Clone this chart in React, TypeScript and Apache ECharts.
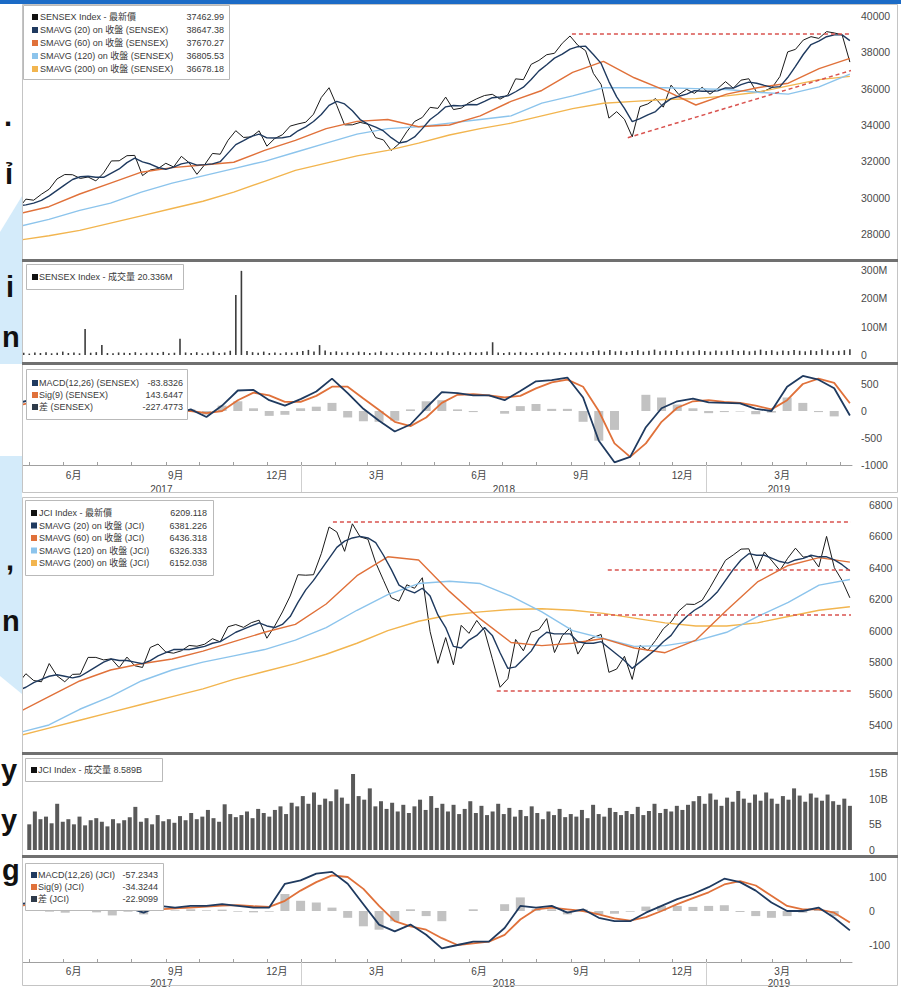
import React, { useEffect, useRef } from "react";
import * as echarts from "echarts";

const FONT = "'Liberation Sans', 'Noto Sans CJK TC', 'Noto Sans CJK SC', sans-serif";

// ---- time frame: day numbers counted from 1 Jan 2017 ----
const DAY0 = Date.UTC(2017, 0, 1);
const FIRST_DAY = 110; // Fri 21 Apr 2017
const LAST_DAY = 859; // Fri 10 May 2019
const X_MIN = 113.5;
const X_MAX = 860.9;
const PX_PER_DAY = 1.1105;

// ---- SENSEX ----
const SENSEX_PRICE = [
  29365, 29918, 29859, 30188, 30465, 31028, 31273, 31262, 31056, 31138,
  30922, 31360, 32021, 32029, 32309, 32326, 31214, 31525, 31596, 31892,
  31688, 32273, 31922, 31284, 31815, 32433, 32390, 33157, 33686, 33315,
  33343, 33679, 32833, 33251, 33463, 33940, 34057, 34154, 34592, 35512,
  36050, 35067, 34005, 34010, 34142, 34047, 33307, 33176, 32597, 32969,
  33627, 34193, 34415, 34970, 34915, 35536, 34849, 34925, 35227, 35444,
  35622, 35689, 35423, 35658, 36541, 36496, 37337, 37557, 37869, 37948,
  38500, 38900, 38390, 38091, 36842, 36227, 34377, 34733, 34315, 33349,
  35012, 35158, 35457, 34981, 36194, 35673, 35963, 35742, 36076, 35695,
  36010, 36387, 36025, 36469, 36546, 35809, 35871, 36064, 36671, 38024,
  38164, 38673, 38862, 38767, 39140, 39067, 38963, 37463,
];
const SENSEX_SMA20 = [
  29550, 29600, 29700, 29850, 30100, 30400, 30700, 31000, 31150, 31180,
  31120, 31120, 31350, 31580, 31930, 32170, 31970, 31850, 31660, 31560,
  31680, 31860, 31940, 31790, 31820, 31860, 31980, 32450, 32920, 33140,
  33370, 33500, 33290, 33280, 33300, 33370, 33680, 33900, 34190, 34580,
  35080, 35300, 35160, 34780, 34300, 34050, 33880, 33670, 33300, 33010,
  33090, 33340, 33800, 34300, 34620, 35000, 35070, 35050, 35130, 35110,
  35300, 35500, 35540, 35600, 35830, 36080, 36500, 36980, 37320, 37680,
  37900, 38180, 38310, 38340, 37880, 37390, 36390, 35550, 34920, 34190,
  34350, 34560, 34740, 35150, 35450, 35580, 35700, 35890, 35860, 35860,
  35880, 36040, 36030, 36220, 36360, 36300, 36180, 36070, 36110, 36610,
  37230, 37880, 38430, 38620, 38860, 38960, 38960, 38647,
];
const SENSEX_SMA60 = [
  29100, 29500, 30200, 30800, 31400, 31650, 31800, 31950, 32600, 33150,
  33800, 34200, 34300, 33900, 34000, 34500, 35300, 35900, 36900, 37500,
  36600, 35900, 35100, 35700, 36050, 36300, 37100, 37670,
];
const SENSEX_SMA120 = [
  28400, 28800, 29300, 29700, 30300, 30800, 31200, 31600, 32000, 32500,
  33000, 33500, 33800, 33900, 34100, 34300, 34500, 35200, 35600, 36050,
  36050, 36050, 36000, 35950, 35800, 35700, 36100, 36805,
];
const SENSEX_SMA200 = [
  27650, 27900, 28200, 28600, 29000, 29400, 29800, 30300, 30900, 31500,
  31900, 32300, 32600, 33000, 33450, 33800, 34100, 34500, 34900, 35200,
  35300, 35400, 35450, 35600, 35800, 36150, 36500, 36678,
];
const SENSEX_VOL = [
  6, 8, 5, 9, 7, 10, 6, 8, 12, 7,
  9, 6, 92, 8, 10, 35, 7, 6, 9, 8,
  7, 10, 6, 8, 9, 7, 11, 6, 8, 57,
  9, 7, 10, 6, 8, 12, 7, 9, 15, 212,
  297, 14, 10, 8, 12, 7, 9, 6, 10, 8,
  11, 14, 18, 12, 35, 16, 10, 13, 9, 11,
  8, 12, 10, 7, 9, 13, 8, 10, 6, 9,
  11, 8, 10, 7, 12, 9, 8, 13, 10, 7,
  9, 11, 8, 10, 12, 45, 9, 7, 10, 8,
  11, 9, 7, 10, 8, 12, 9, 11, 7, 10,
  9, 12, 10, 14, 16, 12, 18, 13, 15, 11,
  14, 17, 12, 15, 19, 13, 16, 14, 18, 12,
  15, 13, 17, 14, 12, 16, 13, 15, 18, 14,
  16, 13, 15, 19, 14, 17, 12, 16, 14, 18,
  15, 13, 17, 14, 20, 16, 13, 15, 17, 20,
];
const SENSEX_MACD = [
  150, 220, 300, 420, 330, 180, 260, 380, 200, -30,
  -60, 30, -110, 100, 380, 390, 200, 100, 220, 360,
  600, 330, 40, -180, -380, -250, 60, 350, 330, 290,
  290, 200, 370, 550, 570, 620, 250, -550, -950, -850,
  -300, 50, 180, 230, 160, 150, 140, 40, 0, 450,
  650, 580, 420, -84,
];
const SENSEX_SIG = [
  100, 170, 240, 330, 360, 280, 240, 300, 290, 120,
  10, 0, -40, 0, 200, 340, 290, 170, 170, 280,
  450, 450, 230, 20, -200, -280, -120, 150, 300, 310,
  290, 250, 280, 420, 530, 580, 450, 0, -600, -850,
  -600, -200, 60, 180, 200, 170, 150, 100, 30, 200,
  500, 600, 520, 144,
];
const SENSEX_HIST = [
  50, 50, 60, 90, -30, -100, 20, 80, -90, -150,
  -70, 30, -70, 100, 180, 50, -90, -70, 50, 80,
  150, -120, -190, -200, -180, 30, 180, 200, 30, -20,
  0, -50, 90, 130, 40, 40, -200, -550, -350, 0,
  300, 250, 120, 50, -40, -20, -10, -60, -30, 250,
  150, -20, -100, -227,
];
const SENSEX_TRENDS = [
  [608.7, 39000, 860, 39000],
  [659, 33300, 860, 37000],
];

// ---- JCI ----
const JCI_PRICE = [
  5664, 5726, 5683, 5675, 5791, 5713, 5675, 5722, 5724, 5830,
  5830, 5814, 5821, 5765, 5832, 5777, 5766, 5893, 5915, 5864,
  5857, 5872, 5906, 5901, 5914, 5949, 5929, 6025, 6039, 6021,
  6051, 6067, 5952, 6029, 6119, 6221, 6356, 6353, 6356, 6490,
  6660, 6628, 6505, 6680, 6597, 6582, 6433, 6321, 6210, 6188,
  6292, 6270, 6337, 5994, 5792, 5956, 5783, 6034, 5983, 6065,
  6000, 5822, 5640, 5694, 5944, 5872, 5990, 6007, 6077, 5861,
  5968, 6018, 5851, 5931, 5957, 5976, 5735, 5756, 5837, 5690,
  5906, 5874, 5938, 6012, 6056, 6126, 6169, 6167, 6194, 6274,
  6361, 6448, 6482, 6519, 6521, 6389, 6501, 6443, 6383, 6461,
  6525, 6468, 6474, 6405, 6600, 6401, 6319, 6209,
];
const JCI_SMA20 = [
  5620, 5640, 5670, 5690, 5710, 5720, 5710, 5700, 5710, 5740,
  5770, 5800, 5820, 5810, 5810, 5800, 5790, 5810, 5840, 5860,
  5880, 5880, 5880, 5890, 5900, 5920, 5930, 5960, 5990, 6010,
  6030, 6050, 6030, 6020, 6040, 6090, 6180, 6260, 6320, 6390,
  6460, 6530, 6570, 6590, 6600, 6590, 6560, 6480, 6390, 6290,
  6260, 6240, 6270, 6220, 6100, 6020, 5900, 5890, 5940, 5970,
  6020, 5970, 5860, 5760, 5770, 5820, 5870, 5950, 5990, 5980,
  5980, 5980, 5930, 5920, 5920, 5930, 5890, 5850, 5810, 5760,
  5800, 5840, 5880, 5930, 5970, 6040, 6090, 6130, 6160, 6200,
  6250, 6320, 6390, 6450, 6490, 6480, 6480, 6460, 6440, 6430,
  6450, 6460, 6480, 6470, 6470, 6450, 6420, 6381,
];
const JCI_SMA60 = [
  5480, 5580, 5680, 5750, 5790, 5820, 5870, 5930, 5990, 6040,
  6170, 6350, 6470, 6450, 6250, 6075, 5925, 5905, 5920, 5950,
  5890, 5860, 5940, 6130, 6310, 6415, 6465, 6436,
];
const JCI_SMA120 = [
  5350, 5400, 5500, 5580, 5680, 5750, 5800, 5840, 5880, 5940,
  6020, 6130, 6230, 6300, 6315, 6300, 6220, 6120, 6000, 5950,
  5900, 5905, 5935, 5990, 6090, 6180, 6290, 6326,
];
const JCI_SMA200 = [
  5330, 5380, 5430, 5480, 5530, 5580, 5630, 5690, 5740, 5790,
  5850, 5920, 6000, 6060, 6100, 6120, 6135, 6140, 6130, 6110,
  6080, 6050, 6030, 6030, 6050, 6090, 6130, 6152,
];
const JCI_VOL = [
  5.5, 6.2, 5.0, 7.5, 6.0, 6.5, 5.2, 9.0, 5.5, 6.0,
  5.0, 6.5, 4.8, 5.8, 6.2, 5.5, 4.6, 6.0, 5.2, 5.8,
  6.4, 8.4, 5.5, 6.2, 5.0, 6.8, 5.6, 6.0, 5.3, 6.6,
  5.8, 7.2, 6.0, 6.5, 7.8, 6.2, 5.5, 8.9, 7.0, 6.4,
  6.8, 7.5, 6.2, 8.0, 7.2, 6.5, 7.8, 8.5, 7.0, 9.2,
  8.5, 10.5, 9.0, 11.2, 8.8, 10.0, 9.5, 11.8, 10.2, 9.0,
  14.8, 10.5, 9.8, 12.0, 8.5, 9.5, 8.0, 9.2, 7.5, 8.8,
  7.2, 8.5, 9.8, 7.8, 10.5, 8.2, 9.0, 7.5, 8.8, 7.0,
  8.0, 9.5, 7.2, 8.6, 6.8, 7.5, 9.0, 7.0, 8.2, 6.5,
  7.8, 6.6, 8.5, 7.2, 6.0, 7.5, 6.8, 8.0, 6.4, 7.0,
  6.5, 7.8, 6.2, 8.8, 7.0, 6.5, 8.2, 7.4, 6.8, 7.6,
  7.0, 8.4, 6.8, 7.6, 9.0, 7.2, 8.0, 7.5, 8.6, 7.8,
  8.8, 9.5, 10.5, 9.0, 11.0, 9.8, 8.6, 10.2, 9.4, 11.5,
  10.0, 9.2, 10.8, 9.6, 11.2, 10.0, 9.0, 10.5, 9.8, 12.0,
  10.6, 9.4, 11.0, 10.2, 9.6, 10.8, 9.5, 8.8, 10.0, 8.6,
];
const JCI_MACD = [
  20, 25, 20, 15, 30, 20, 5, 10, -5, 15,
  10, 15, 15, 20, 15, 10, 10, 80, 90, 110,
  115, 80, 20, -40, -60, -40, -70, -110, -100, -90,
  -90, -50, 15, 10, 15, -5, 5, -20, -30, -30,
  -5, 15, 35, 50, 70, 95, 85, 60, 25, 0,
  0, 10, -20, -57,
];
const JCI_SIG = [
  15, 20, 22, 20, 22, 24, 18, 12, 5, 5,
  8, 10, 13, 16, 17, 14, 12, 30, 60, 85,
  105, 100, 65, 15, -30, -45, -55, -80, -100, -95,
  -90, -70, -25, 5, 10, 5, 0, -10, -22, -28,
  -18, 0, 20, 38, 55, 78, 88, 75, 45, 15,
  5, 5, -5, -34,
];
const JCI_HIST = [
  5, 5, -2, -5, 8, -4, -13, -2, -10, 10,
  2, 5, 2, 4, -2, -4, -2, 50, 30, 25,
  10, -20, -45, -55, -30, 5, -15, -30, 0, 5,
  0, 20, 40, 5, 5, -10, 5, -10, -8, -2,
  13, 15, 15, 12, 15, 17, -3, -15, -20, -15,
  -5, 5, -15, -23,
];
const JCI_TRENDS = [
  [393.5, 6690, 860, 6690],
  [641, 6390, 860, 6390],
  [625, 6100, 860, 6100],
  [541, 5620, 860, 5620],
];

// ---- tick labels ----
const SENSEX_PRICE_TICKS = [28000, 30000, 32000, 34000, 36000, 38000, 40000];
const SENSEX_VOL_TICKS = [0, 100, 200, 300];
const SENSEX_MACD_TICKS = [-1000, -500, 0, 500];
const JCI_PRICE_TICKS = [5400, 5600, 5800, 6000, 6200, 6400, 6600, 6800];
const JCI_VOL_TICKS = [0, 5, 10, 15];
const JCI_MACD_TICKS = [-100, 0, 100];
const YEAR_BREAKS = [365, 730];
const YEAR_LABEL_DAYS = [239, 547.5, 795];

// ---- legends ----
const SENSEX_LEGEND = [
  { color: "#111111", name: "SENSEX Index - 最新價", value: "37462.99" },
  { color: "#1f3a5f", name: "SMAVG (20) on 收盤 (SENSEX)", value: "38647.38" },
  { color: "#e0713a", name: "SMAVG (60) on 收盤 (SENSEX)", value: "37670.27" },
  { color: "#8cc4ec", name: "SMAVG (120) on 收盤 (SENSEX)", value: "36805.53" },
  { color: "#f2b54f", name: "SMAVG (200) on 收盤 (SENSEX)", value: "36678.18" },
];
const SENSEX_VOL_LEGEND = [{ color: "#111111", name: "SENSEX Index - 成交量 20.336M", value: "" }];
const SENSEX_MACD_LEGEND = [
  { color: "#1f3a5f", name: "MACD(12,26) (SENSEX)", value: "-83.8326" },
  { color: "#e0713a", name: "Sig(9) (SENSEX)", value: "143.6447" },
  { color: "#2f3b4a", name: "差 (SENSEX)", value: "-227.4773" },
];
const JCI_LEGEND = [
  { color: "#111111", name: "JCI Index - 最新價", value: "6209.118" },
  { color: "#1f3a5f", name: "SMAVG (20) on 收盤 (JCI)", value: "6381.226" },
  { color: "#e0713a", name: "SMAVG (60) on 收盤 (JCI)", value: "6436.318" },
  { color: "#8cc4ec", name: "SMAVG (120) on 收盤 (JCI)", value: "6326.333" },
  { color: "#f2b54f", name: "SMAVG (200) on 收盤 (JCI)", value: "6152.038" },
];
const JCI_VOL_LEGEND = [{ color: "#111111", name: "JCI Index - 成交量 8.589B", value: "" }];
const JCI_MACD_LEGEND = [
  { color: "#1f3a5f", name: "MACD(12,26) (JCI)", value: "-57.2343" },
  { color: "#e0713a", name: "Sig(9) (JCI)", value: "-34.3244" },
  { color: "#2f3b4a", name: "差 (JCI)", value: "-22.9099" },
];

// cropped slide text at the left edge
const LEFT_GLYPHS = [
  { t: ".", x: 4, y: 116 },
  { t: "ỉ", x: 5, y: 174 },
  { t: "i", x: 6, y: 287 },
  { t: "n", x: 2, y: 337 },
  { t: ",", x: 6, y: 560 },
  { t: "n", x: 2, y: 621 },
  { t: "y", x: 1, y: 770 },
  { t: "y", x: 1, y: 820 },
  { t: "g", x: 2, y: 870 },
];

const spread = (values: number[]) =>
  values.map((v, i) => [FIRST_DAY + (i * (LAST_DAY - FIRST_DAY)) / (values.length - 1), v]);

function monthStarts() {
  const out: number[] = [];
  for (let y = 2017; y <= 2019; y++)
    for (let m = 0; m < 12; m++) {
      const d = (Date.UTC(y, m, 1) - DAY0) / 86400000;
      if (d >= X_MIN && d <= X_MAX) out.push(d);
    }
  return out;
}
function quarterLabelDays() {
  const out: number[] = [];
  for (let y = 2017; y <= 2019; y++)
    for (let m = 2; m < 12; m += 3) {
      const d = (Date.UTC(y, m, 1) - DAY0) / 86400000 + 9;
      if (d >= X_MIN && d <= X_MAX) out.push(d);
    }
  return out;
}
const monthFmt = (v: number) => {
  const dt = new Date(DAY0 + Math.round(v) * 86400000);
  return dt.getUTCMonth() + 1 + "月";
};
const yearFmt = (v: number) => (v < 365 ? "2017" : v < 730 ? "2018" : "2019");

function legendBox(box: number[], rows: any[], firstY: number, step: number, sqX: number, textX: number, valRight: number) {
  const els: any[] = [
    {
      type: "rect",
      z: 100,
      silent: true,
      shape: { x: box[0] + 0.5, y: box[1] + 0.5, width: box[2], height: box[3] },
      style: { fill: "#ffffff", stroke: "#b9b9b9", lineWidth: 1 },
    },
  ];
  rows.forEach((r, i) => {
    const cy = firstY + i * step;
    els.push({ type: "rect", z: 101, silent: true, shape: { x: sqX, y: cy - 3, width: 6, height: 6 }, style: { fill: r.color } });
    els.push({
      type: "text",
      z: 101,
      silent: true,
      x: textX,
      y: cy,
      style: { text: r.name, fill: "#3a3a3a", fontSize: 9, fontFamily: FONT, align: "left", verticalAlign: "middle" },
    });
    if (r.value)
      els.push({
        type: "text",
        z: 101,
        silent: true,
        x: valRight,
        y: cy,
        style: { text: r.value, fill: "#3a3a3a", fontSize: 9, fontFamily: FONT, align: "right", verticalAlign: "middle" },
      });
  });
  return els;
}

function buildOption() {
  const GL = 22;
  const GW = 830;
  const grids = [
    { top: 16, height: 254.3 },
    { top: 270, height: 85 },
    { top: 367.8, height: 97.2 },
    { top: 497.1, height: 243.6 },
    { top: 762.7, height: 87.3 },
    { top: 866.8, height: 95.2 },
  ].map((g) => ({ left: GL, width: GW, top: g.top, height: g.height, containLabel: false, outerBoundsMode: "none", show: false }));

  const hiddenX = (gridIndex: number) => ({ type: "value", gridIndex, min: X_MIN, max: X_MAX, show: false });
  const monthAxis = (gridIndex: number, margin: number) => ({
    type: "value",
    gridIndex,
    min: X_MIN,
    max: X_MAX,
    position: "bottom",
    offset: 0,
    axisLine: { show: true, onZero: false, lineStyle: { color: "#a0a0a0", width: 1 } },
    axisTick: { show: true, inside: true, length: 3, customValues: monthStarts(), lineStyle: { color: "#a0a0a0" } },
    axisLabel: { show: true, customValues: quarterLabelDays(), formatter: monthFmt, color: "#444", fontSize: 10, fontFamily: FONT, margin },
    splitLine: { show: false },
  });
  const yearAxis = (gridIndex: number, len: number, margin: number) => ({
    type: "value",
    gridIndex,
    min: X_MIN,
    max: X_MAX,
    position: "bottom",
    offset: 0,
    axisLine: { show: false, onZero: false },
    axisTick: { show: true, inside: false, length: len, customValues: YEAR_BREAKS, lineStyle: { color: "#cfcfcf" } },
    axisLabel: { show: true, customValues: YEAR_LABEL_DAYS, formatter: yearFmt, color: "#444", fontSize: 10, fontFamily: FONT, margin },
    splitLine: { show: false },
  });
  const yAxis = (gridIndex: number, min: number, max: number, ticks: number[], fmt: any, margin: number) => ({
    type: "value",
    gridIndex,
    min,
    max,
    position: "right",
    axisLine: { show: false },
    axisTick: { show: false },
    splitLine: { show: false },
    axisLabel: { customValues: ticks, formatter: fmt, color: "#4a4a4a", fontSize: 10.5, fontFamily: FONT, margin },
  });

  const line = (data: number[], color: string, width: number, xi: number, yi: number, extra: any = {}) => ({
    type: "line",
    data: spread(data),
    xAxisIndex: xi,
    yAxisIndex: yi,
    showSymbol: false,
    symbol: "none",
    silent: true,
    clip: true,
    lineStyle: { color, width },
    itemStyle: { color },
    ...extra,
  });
  const bars = (data: number[], color: string, width: number, xi: number, yi: number) => {
    const half = width / 2 / PX_PER_DAY;
    return {
      type: "bar",
      data: spread(data).filter((p) => p[0] - half >= X_MIN && p[0] + half <= X_MAX),
      xAxisIndex: xi,
      yAxisIndex: yi,
      barWidth: width,
      silent: true,
      clip: true,
      itemStyle: { color },
    };
  };
  const trends = (t: number[][]) => ({
    silent: true,
    symbol: ["none", "none"],
    label: { show: false },
    lineStyle: { color: "#d9534f", type: [4, 3], width: 1.5 },
    data: t.map((s) => [{ coord: [s[0], s[1]] }, { coord: [s[2], s[3]] }]),
  });

  const series = [
    // SENSEX price panel
    line(SENSEX_PRICE, "#1a1a1a", 1, 0, 0, { markLine: trends(SENSEX_TRENDS) }),
    line(SENSEX_SMA200, "#f2b54f", 1.4, 0, 0),
    line(SENSEX_SMA120, "#8cc4ec", 1.4, 0, 0),
    line(SENSEX_SMA60, "#e0713a", 1.4, 0, 0),
    line(SENSEX_SMA20, "#1f3a5f", 1.4, 0, 0),
    // SENSEX volume
    bars(SENSEX_VOL, "#3c3c3c", 1.6, 1, 1),
    // SENSEX MACD
    bars(SENSEX_HIST, "#c2c2c2", 9, 2, 2),
    line(SENSEX_SIG, "#e0713a", 1.8, 2, 2),
    line(SENSEX_MACD, "#1f3a5f", 1.8, 2, 2),
    // JCI price panel
    line(JCI_PRICE, "#1a1a1a", 1, 4, 3, { markLine: trends(JCI_TRENDS) }),
    line(JCI_SMA200, "#f2b54f", 1.4, 4, 3),
    line(JCI_SMA120, "#8cc4ec", 1.4, 4, 3),
    line(JCI_SMA60, "#e0713a", 1.4, 4, 3),
    line(JCI_SMA20, "#1f3a5f", 1.4, 4, 3),
    // JCI volume
    bars(JCI_VOL, "#595959", 4, 5, 4),
    // JCI MACD
    bars(JCI_HIST, "#c2c2c2", 9, 6, 5),
    line(JCI_SIG, "#e0713a", 1.8, 6, 5),
    line(JCI_MACD, "#1f3a5f", 1.8, 6, 5),
  ];

  const graphic: any[] = [
    { type: "rect", silent: true, shape: { x: 22, y: 4, width: 879, height: 983 }, style: { fill: "#ffffff" } },
    // left strip sits above the series so nothing leaks past the chart frame
    { type: "rect", silent: true, z: 20, shape: { x: 0, y: 0, width: 22, height: 987 }, style: { fill: "#ffffff" } },
    { type: "polygon", silent: true, z: 21, shape: { points: [[0, 232], [22, 196], [22, 364], [0, 364]] }, style: { fill: "#d4ebfa" } },
    { type: "polygon", silent: true, z: 21, shape: { points: [[0, 456], [22, 456], [22, 694], [0, 676]] }, style: { fill: "#d4ebfa" } },
    ...LEFT_GLYPHS.map((g) => ({
      type: "text",
      silent: true,
      z: 22,
      x: g.x,
      y: g.y,
      style: { text: g.t, fill: "#111", fontSize: 29, fontWeight: "bold", fontFamily: "'Liberation Sans', Arial, sans-serif", align: "left", verticalAlign: "middle" },
    })),
    { type: "rect", silent: true, z: 23, shape: { x: 0, y: 0, width: 901, height: 4 }, style: { fill: "#1b6bc6" } },
    { type: "rect", silent: true, z: 10, shape: { x: 22.5, y: 4.5, width: 875, height: 488 }, style: { fill: "none", stroke: "#c4c4c4", lineWidth: 1 } },
    { type: "rect", silent: true, z: 10, shape: { x: 22.5, y: 497.5, width: 875, height: 488 }, style: { fill: "none", stroke: "#c4c4c4", lineWidth: 1 } },
    { type: "rect", silent: true, z: 10, shape: { x: 22, y: 259, width: 876, height: 3 }, style: { fill: "#707070" } },
    { type: "rect", silent: true, z: 10, shape: { x: 22, y: 362, width: 876, height: 3 }, style: { fill: "#707070" } },
    { type: "rect", silent: true, z: 10, shape: { x: 22, y: 752, width: 876, height: 3 }, style: { fill: "#707070" } },
    { type: "rect", silent: true, z: 10, shape: { x: 22, y: 855, width: 876, height: 3 }, style: { fill: "#707070" } },
    ...legendBox([23, 5, 206, 74], SENSEX_LEGEND, 17, 13, 32, 40, 224),
    ...legendBox([26, 264, 157, 25], SENSEX_VOL_LEGEND, 277, 13, 32, 39, 180),
    ...legendBox([26, 369, 161, 50], SENSEX_MACD_LEGEND, 383, 12, 32, 39, 183),
    ...legendBox([25, 500, 188, 75], JCI_LEGEND, 513, 12.5, 31, 39, 207),
    ...legendBox([25, 758, 137, 23], JCI_VOL_LEGEND, 770, 12, 31, 38, 158),
    ...legendBox([25, 863, 138, 47], JCI_MACD_LEGEND, 875, 12, 31, 38, 158),
  ];

  return {
    animation: false,
    backgroundColor: "#ffffff",
    grid: grids,
    xAxis: [
      hiddenX(0),
      hiddenX(1),
      monthAxis(2, 5),
      yearAxis(2, 28, 19),
      hiddenX(3),
      hiddenX(4),
      monthAxis(5, 4),
      yearAxis(5, 24, 16),
    ],
    yAxis: [
      yAxis(0, 26000, 40000, SENSEX_PRICE_TICKS, (v: number) => String(v), 9),
      yAxis(1, 0, 300, SENSEX_VOL_TICKS, (v: number) => (v === 0 ? "0" : v + "M"), 9),
      yAxis(2, -1000, 800, SENSEX_MACD_TICKS, (v: number) => String(v), 9),
      yAxis(3, 5300, 6850, JCI_PRICE_TICKS, (v: number) => String(v), 17),
      yAxis(4, 0, 17, JCI_VOL_TICKS, (v: number) => (v === 0 ? "0" : v + "B"), 17),
      yAxis(5, -150, 130, JCI_MACD_TICKS, (v: number) => String(v), 17),
    ],
    series,
    graphic,
  };
}

export default function App() {
  const ref = useRef<HTMLDivElement>(null);
  useEffect(() => {
    document.body.style.margin = "0";
    const chart = echarts.init(ref.current as HTMLDivElement, null, { renderer: "svg", width: 901, height: 987 });
    chart.setOption(buildOption() as any);
    return () => chart.dispose();
  }, []);
  return <div ref={ref} style={{ position: "absolute", left: 0, top: 0, width: 901, height: 987, background: "#fff" }} />;
}
